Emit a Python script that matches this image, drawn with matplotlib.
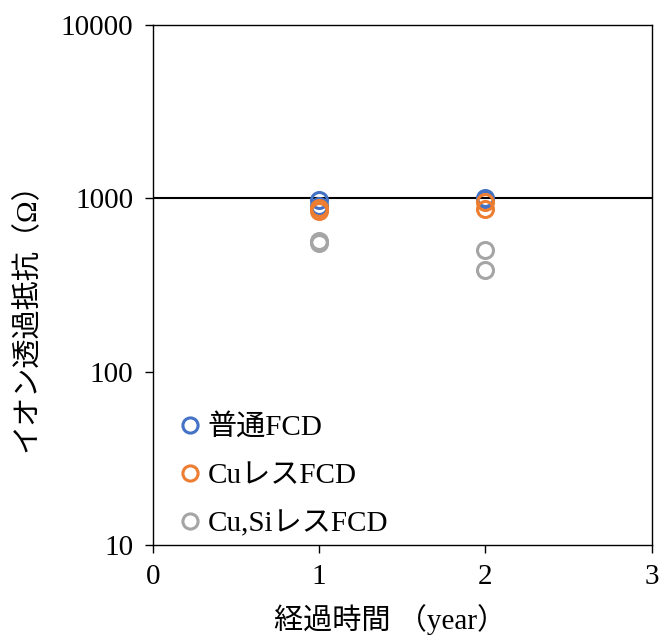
import matplotlib.pyplot as plt

plt.rcParams['font.family'] = ['Liberation Serif', 'Noto Sans CJK JP']

# 測定値
x_normal = [1, 1, 2, 2]
y_normal = [980, 900, 1010, 990]
x_cu = [1, 1, 2, 2]
y_cu = [880, 840, 950, 870]
x_cusi = [1, 1, 2, 2]
y_cusi = [570, 555, 500, 385]

labels = ['普通FCD', 'CuレスFCD', 'Cu,SiレスFCD']
colors = ['#4472C4', '#ED7D31', '#A5A5A5']

fig = plt.figure(figsize=(6.59, 6.41), dpi=100)
ax = fig.add_axes([0.232, 0.150, 0.757, 0.811])

for xs, ys, lab, c in zip([x_normal, x_cu, x_cusi], [y_normal, y_cu, y_cusi], labels, colors):
    ax.plot(xs, ys, 'o', ls='none', ms=11.5, mfc='none', mec=c, mew=2.2, label=lab)

ax.axhline(1000, color='black', lw=1.5, zorder=0)

ax.set_yscale('log')
ax.set_ylim(10, 10000)
ax.set_xlim(0, 3)
ax.set_xticks([0, 1, 2, 3])
ax.set_yticks([10, 100, 1000, 10000])
ax.set_yticklabels(['10', '100', '1000', '10000'])
ax.minorticks_off()
ax.tick_params(labelsize=21, length=6, width=1, pad=8)
for s in ax.spines.values():
    s.set_linewidth(1)

ax.set_xlabel('経過時間 （year）', fontsize=21)
ax.set_ylabel('イオン透過抵抗（Ω）', fontsize=21)
ax.xaxis.label.set_va('center')
ax.yaxis.label.set_va('center')
ax.xaxis.set_label_coords(0.475, -0.144)
ax.yaxis.set_label_coords(-0.252, 0.452)

ax.legend(loc='lower left', frameon=False, fontsize=21, handlelength=1.0,
          handletextpad=0.1, labelspacing=0.74, markerscale=0.95,
          borderaxespad=0.2, borderpad=0.3, bbox_to_anchor=(0.016, -0.013))

fig.savefig('out.png', dpi=100)
